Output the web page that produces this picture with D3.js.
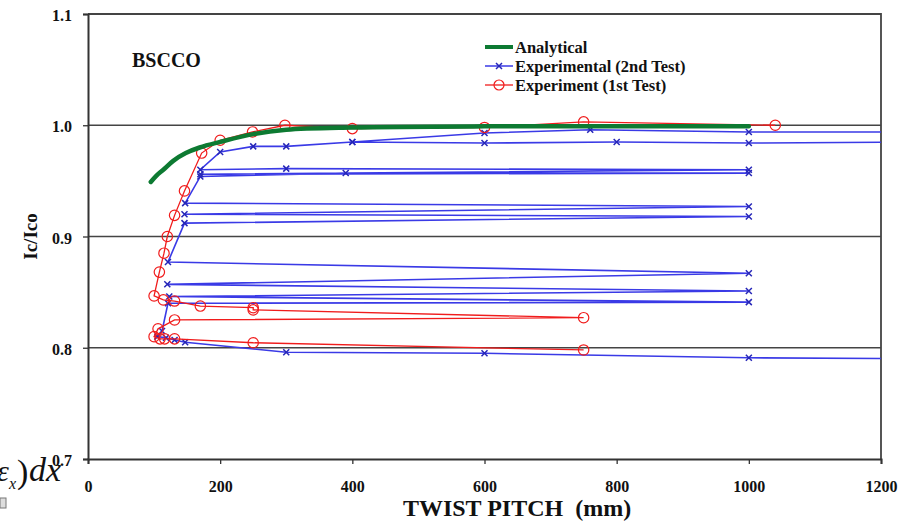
<!DOCTYPE html>
<html>
<head>
<meta charset="utf-8">
<script src="https://cdn.jsdelivr.net/npm/d3@7"></script>
<style>
body { margin: 0; background: #fff; }
svg text { font-family: "Liberation Serif", "Times New Roman", serif; font-weight: bold; fill: #111; }
</style>
</head>
<body>
<div id="chart"></div>
<script>
const WIDTH = 917;
const HEIGHT = 523;

// axis ticks
const pitchTicks = [0, 200, 400, 600, 800, 1000, 1200];
const icTicks = [0.7, 0.8, 0.9, 1.0, 1.1];
const gridValues = [0.8, 0.9, 1.0];

// analytical curve
const analyticalPitch = [95, 104, 114, 129, 148, 169, 200, 250, 300, 400, 600, 800, 1000];
const analyticalIc = [0.949, 0.955, 0.960, 0.968, 0.975, 0.980, 0.985, 0.992, 0.996, 0.998, 0.999, 0.999, 0.999];

// experimental (2nd test), in plotted order
const test2Pitch = [1300, 1000, 600, 300, 147, 131, 118, 105, 112, 121,
  1000, 123, 1000, 120, 1000, 121, 146, 1000, 146, 1000,
  147, 170, 390, 1000, 170, 1000, 300, 170, 200, 250,
  300, 400, 600, 760, 1000, 1300, 1300, 1000, 800, 600, 400];
const test2Ic = [0.790, 0.791, 0.795, 0.796, 0.805, 0.807, 0.809, 0.810, 0.815, 0.840,
  0.841, 0.846, 0.851, 0.857, 0.867, 0.877, 0.912, 0.918, 0.920, 0.927,
  0.930, 0.954, 0.957, 0.957, 0.956, 0.960, 0.961, 0.960, 0.976, 0.981,
  0.981, 0.985, 0.993, 0.996, 0.994, 0.994, 0.985, 0.984, 0.985, 0.984, 0.985];

// experiment (1st test), in plotted order
const test1Pitch = [750, 250, 131, 116, 109, 100, 106, 131, 750, 250,
  250, 170, 131, 114, 100, 108, 115, 120, 131, 146,
  172, 200, 249, 298, 400, 600, 750, 1040];
const test1Ic = [0.798, 0.8045, 0.808, 0.808, 0.808, 0.810, 0.817, 0.825, 0.827, 0.834,
  0.836, 0.8375, 0.842, 0.843, 0.8466, 0.868, 0.885, 0.900, 0.919, 0.941,
  0.975, 0.9865, 0.994, 1.000, 0.997, 0.998, 1.003, 1.000];

const legendLabels = ["Analytical", "Experimental (2nd Test)", "Experiment (1st Test)"];

const GREEN = "#0d7a32";
const BLUE = "#3a3ae6";
const RED = "#f01c1c";

var x = d3.scaleLinear().domain([0, 1200]).range([88, 881]);
var y = d3.scaleLinear().domain([0.7, 1.1]).range([459, 14]);

var svg = d3.select("#chart").append("svg")
  .attr("width", WIDTH)
  .attr("height", HEIGHT);

svg.append("defs").append("clipPath").attr("id", "plot")
  .append("rect")
  .attr("x", x(0)).attr("y", y(1.1))
  .attr("width", x(1200) - x(0)).attr("height", y(0.7) - y(1.1));

// gridlines
svg.append("g").selectAll("line")
  .data(gridValues)
  .enter().append("line")
  .attr("x1", x(0)).attr("x2", x(1200))
  .attr("y1", d => y(d)).attr("y2", d => y(d))
  .attr("stroke", "#444").attr("stroke-width", 1.5);

// frame top and right
svg.append("path")
  .attr("d", "M" + x(0) + "," + y(1.1) + "H" + x(1200) + "V" + y(0.7))
  .attr("fill", "none").attr("stroke", "#444").attr("stroke-width", 1.8);

var xAxis = d3.axisBottom(x).tickValues(pitchTicks).tickSize(5).tickPadding(17)
  .tickFormat(d3.format("d"));
var yAxis = d3.axisLeft(y).tickValues(icTicks).tickSize(5).tickPadding(11)
  .tickFormat(d3.format(".1f"));

var gx = svg.append("g").attr("transform", "translate(0," + y(0.7) + ")").call(xAxis);
var gy = svg.append("g").attr("transform", "translate(" + x(0) + ",0)").call(yAxis);
[gx, gy].forEach(function (g) {
  g.select(".domain").attr("stroke", "#333").attr("stroke-width", 2);
  g.selectAll(".tick line").attr("stroke", "#333").attr("stroke-width", 1.3);
  g.selectAll(".tick text").style("font-size", "16px").attr("fill", "#111");
});
gy.selectAll(".tick text").attr("dy", "0.42em");

var data = svg.append("g").attr("clip-path", "url(#plot)");

var line = d3.line().x(d => x(d[0])).y(d => y(d[1]));

var analytical = d3.zip(analyticalPitch, analyticalIc);
var test2 = d3.zip(test2Pitch, test2Ic);
var test1 = d3.zip(test1Pitch, test1Ic);

data.append("path")
  .attr("d", line(test2))
  .attr("fill", "none").attr("stroke", BLUE).attr("stroke-width", 1.6);

data.selectAll(".cross")
  .data(test2)
  .enter().append("path")
  .attr("class", "cross")
  .attr("transform", d => "translate(" + x(d[0]) + "," + y(d[1]) + ")")
  .attr("d", "M-3,-3L3,3M-3,3L3,-3")
  .attr("stroke", "#2626b8").attr("stroke-width", 1.5);

data.append("path")
  .attr("d", line(test1))
  .attr("fill", "none").attr("stroke", RED).attr("stroke-width", 1.3);

data.selectAll(".ring")
  .data(test1)
  .enter().append("circle")
  .attr("class", "ring")
  .attr("cx", d => x(d[0])).attr("cy", d => y(d[1]))
  .attr("r", 5.2)
  .attr("fill", "none").attr("stroke", RED).attr("stroke-width", 1.2);

var smooth = d3.line().x(d => x(d[0])).y(d => y(d[1])).curve(d3.curveCatmullRom.alpha(0.5));
data.append("path")
  .attr("d", smooth(analytical))
  .attr("fill", "none").attr("stroke", GREEN).attr("stroke-width", 4.5)
  .attr("stroke-linecap", "round");

// labels
svg.append("text")
  .attr("x", 132).attr("y", 67)
  .style("font-size", "20px")
  .text("BSCCO");

svg.append("text")
  .attr("transform", "translate(37," + y(0.9) + ") rotate(-90)")
  .attr("text-anchor", "middle")
  .style("font-size", "19px")
  .text("Ic/Ico");

svg.append("text")
  .attr("x", 517).attr("y", 516)
  .attr("text-anchor", "middle")
  .style("font-size", "24px")
  .style("white-space", "pre")
  .text("TWIST PITCH  (mm)");

// legend
var legend = svg.append("g").attr("transform", "translate(485,47)");
var rowGap = 19;
legend.append("line").attr("x1", 0).attr("x2", 28).attr("y1", 0).attr("y2", 0)
  .attr("stroke", GREEN).attr("stroke-width", 4);
legend.append("line").attr("x1", 0).attr("x2", 28).attr("y1", rowGap).attr("y2", rowGap)
  .attr("stroke", BLUE).attr("stroke-width", 1.5);
legend.append("path").attr("transform", "translate(14," + rowGap + ")")
  .attr("d", "M-3,-3L3,3M-3,3L3,-3").attr("stroke", "#2626b8").attr("stroke-width", 1.5);
legend.append("line").attr("x1", 0).attr("x2", 28).attr("y1", 2 * rowGap).attr("y2", 2 * rowGap)
  .attr("stroke", RED).attr("stroke-width", 1.3);
legend.append("circle").attr("cx", 14).attr("cy", 2 * rowGap).attr("r", 5)
  .attr("fill", "none").attr("stroke", RED).attr("stroke-width", 1.2);
legend.selectAll(".lab")
  .data(legendLabels)
  .enter().append("text")
  .attr("class", "lab")
  .attr("x", 30).attr("y", (d, i) => i * rowGap)
  .attr("dy", "0.35em")
  .style("font-size", "16.5px")
  .text(d => d);

// cropped formula fragment at the lower left
var frag = svg.append("g").style("font-style", "italic");
frag.append("text").attr("x", -3).attr("y", 481).style("font-size", "30px").style("font-weight", "normal").text("ε");
frag.append("text").attr("x", 9).attr("y", 489).style("font-size", "16px").style("font-weight", "normal").text("x");
frag.append("text").attr("x", 17).attr("y", 483).style("font-size", "34px").style("font-weight", "normal").style("font-style", "normal").text(")");
frag.append("text").attr("x", 29).attr("y", 481).style("font-size", "34px").style("font-weight", "normal").text("dx");
svg.append("rect").attr("x", 0).attr("y", 498).attr("width", 6).attr("height", 10)
  .attr("fill", "#ddd").attr("stroke", "#777").attr("stroke-width", 1);
</script>
</body>
</html>
